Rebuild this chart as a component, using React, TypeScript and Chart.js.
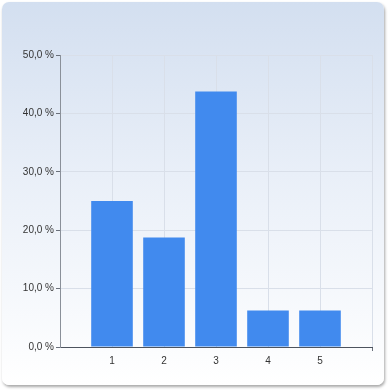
import React, { useEffect, useRef } from "react";
import { Chart, registerables } from "chart.js";

Chart.register(...registerables);

// Answer options on the x axis and share of responses (%)
const categories: string[] = ["1", "2", "3", "4", "5"];
const shares: number[] = [25, 18.75, 43.75, 6.25, 6.25];

// Percentage axis
const yMin = 0;
const yMax = 50;
const yStep = 10;

const fmtPercent = (v: number) => v.toFixed(1).replace(".", ",") + " %";

export default function App() {
  const canvasRef = useRef<HTMLCanvasElement | null>(null);

  useEffect(() => {
    if (!canvasRef.current) return;
    // Empty slots on both ends give the axis one spare step left and right
    const labels = ["", ...categories, ""];
    const data = [null, ...shares, null];
    const lastIndex = labels.length - 1;

    const chart = new Chart(canvasRef.current, {
      type: "bar",
      data: {
        labels,
        datasets: [
          {
            data,
            backgroundColor: "#418aee",
            borderWidth: 0,
            categoryPercentage: 1,
            barPercentage: 0.8,
          },
        ],
      },
      options: {
        responsive: false,
        animation: false,
        devicePixelRatio: 1,
        layout: { padding: { left: 0, top: 55, right: 19, bottom: 14 } },
        plugins: {
          legend: { display: false },
          tooltip: { enabled: false },
        },
        scales: {
          x: {
            offset: false,
            afterFit: (s: any) => {
              s.height = 30;
            },
            grid: {
              offset: false,
              color: "#d9dfe9",
              lineWidth: 1,
              drawTicks: true,
              tickLength: 4,
              tickColor: (ctx: any) =>
                ctx.index === lastIndex ? "#6a707a" : "rgba(0,0,0,0)",
            },
            border: { color: "#4d545e", width: 1 },
            ticks: {
              padding: 4,
              color: "#333333",
              maxRotation: 0,
              autoSkip: false,
              font: { family: "'Liberation Sans', Arial, sans-serif", size: 10 },
            },
          },
          y: {
            min: yMin,
            max: yMax,
            afterFit: (s: any) => {
              s.width = 60;
            },
            grid: {
              color: "#d9dfe9",
              lineWidth: 1,
              drawTicks: true,
              tickLength: 4,
              tickColor: "#6a707a",
            },
            border: { color: "#8a9099", width: 1 },
            ticks: {
              stepSize: yStep,
              padding: 2,
              color: "#333333",
              font: { family: "'Liberation Sans', Arial, sans-serif", size: 10 },
              callback: (v: any) => fmtPercent(Number(v)),
            },
          },
        },
      },
    });
    return () => chart.destroy();
  }, []);

  return (
    <div
      style={{
        position: "fixed",
        left: 0,
        top: 0,
        width: 391,
        height: 391,
        background: "#ffffff",
      }}
    >
      <div
        style={{
          position: "absolute",
          left: 2,
          top: 2,
          width: 382,
          height: 383,
          borderRadius: 7,
          background: "linear-gradient(to bottom, #d3dff0 0%, #e9eff8 45%, #ffffff 100%)",
          boxShadow: "1px 2px 3px rgba(0,0,0,0.35)",
        }}
      />
      <canvas
        ref={canvasRef}
        width={391}
        height={391}
        style={{ position: "absolute", left: 0, top: 0, width: 391, height: 391 }}
      />
    </div>
  );
}
